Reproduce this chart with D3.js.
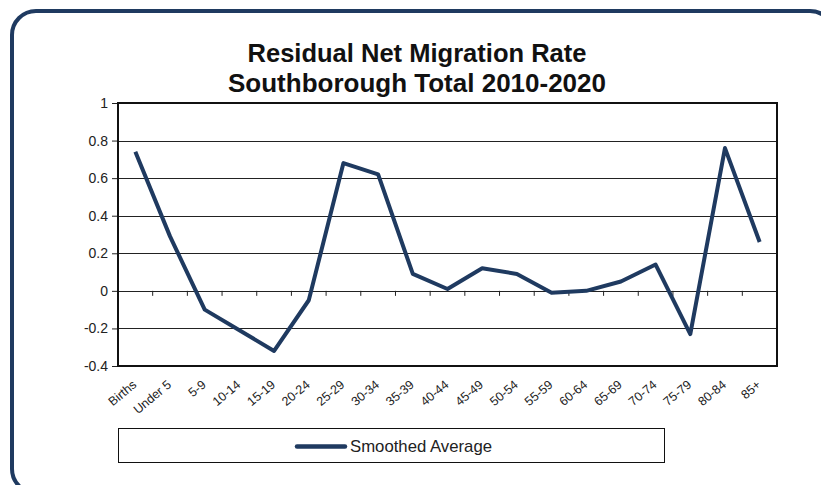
<!DOCTYPE html>
<html>
<head>
<meta charset="utf-8">
<script src="https://cdn.jsdelivr.net/npm/d3@7"></script>
<style>
  body { margin: 0; background: white; }
  svg { display: block; font-family: "Liberation Sans", Arial, sans-serif; }
</style>
</head>
<body>
<div class="chart"></div>
<script>
// age groups along the x axis
var ageGroups = ["Births", "Under 5", "5-9", "10-14", "15-19", "20-24", "25-29", "30-34", "35-39",
  "40-44", "45-49", "50-54", "55-59", "60-64", "65-69", "70-74", "75-79", "80-84", "85+"];

// smoothed average residual net migration rate
var smoothedAvg = [0.74, 0.29, -0.10, -0.21, -0.32, -0.05, 0.68, 0.62, 0.09,
  0.01, 0.12, 0.09, -0.01, 0.00, 0.05, 0.14, -0.23, 0.76, 0.26];

var yTicks = [1, 0.8, 0.6, 0.4, 0.2, 0, -0.2, -0.4];
var titleLines = ["Residual Net Migration Rate", "Southborough Total 2010-2020"];
var seriesName = "Smoothed Average";

var width = 821;
var height = 485;
var navy = "#1F3A60";

var margin = {top: 103, right: 44, bottom: 119, left: 118};

var svg = d3.select(".chart").append("svg")
  .attr("width", width)
  .attr("height", height);

// rounded outer frame
svg.append("rect")
  .attr("x", 12)
  .attr("y", 11)
  .attr("width", 822)
  .attr("height", 482)
  .attr("rx", 24)
  .attr("fill", "white")
  .attr("stroke", navy)
  .attr("stroke-width", 4);

// title, two lines, squeezed like the original
var titleLen = [339, 378];
svg.append("g")
  .selectAll("text")
  .data(titleLines)
  .enter()
  .append("text")
  .text(d => d)
  .attr("x", 417)
  .attr("y", (d, i) => 62 + i * 29.5)
  .attr("text-anchor", "middle")
  .attr("textLength", (d, i) => titleLen[i])
  .attr("lengthAdjust", "spacingAndGlyphs")
  .style("font-size", "26px")
  .style("font-weight", "bold")
  .attr("fill", "#111");

var x = d3.scaleBand()
  .domain(ageGroups)
  .range([margin.left, width - margin.right]);

var y = d3.scaleLinear()
  .domain([-0.4, 1])
  .range([height - margin.bottom, margin.top]);

// horizontal gridlines
svg.append("g")
  .selectAll("line")
  .data(yTicks.filter(d => d > -0.4 && d < 1))
  .enter()
  .append("line")
  .attr("x1", margin.left)
  .attr("x2", width - margin.right)
  .attr("y1", d => Math.round(y(d)) + 0.5)
  .attr("y2", d => Math.round(y(d)) + 0.5)
  .attr("stroke", "#222")
  .attr("stroke-width", 1);

// y axis with outward ticks (plain hyphen for negatives, like Excel)
var yAxis = svg.append("g")
  .attr("transform", "translate(" + margin.left + ",0)")
  .call(d3.axisLeft(y).tickValues(yTicks).tickSize(6).tickPadding(4).tickFormat(d => String(d)));

yAxis.attr("font-size", null).attr("font-family", null);
yAxis.select(".domain").remove();
yAxis.selectAll("line").attr("stroke", "#222");
yAxis.selectAll("text")
  .attr("fill", "#222")
  .style("font-size", "14px");

// category ticks on the zero line, at band boundaries
var bounds = ageGroups.slice(1).map(d => x(d));
svg.append("g")
  .selectAll("line")
  .data(bounds)
  .enter()
  .append("line")
  .attr("x1", d => d)
  .attr("x2", d => d)
  .attr("y1", y(0))
  .attr("y2", y(0) + 5)
  .attr("stroke", "#222");

// plot area frame
svg.append("rect")
  .attr("x", margin.left)
  .attr("y", margin.top)
  .attr("width", width - margin.left - margin.right)
  .attr("height", height - margin.top - margin.bottom)
  .attr("fill", "none")
  .attr("stroke", "#111")
  .attr("stroke-width", 2);

// rotated category labels
svg.append("g")
  .selectAll("text")
  .data(ageGroups)
  .enter()
  .append("text")
  .text(d => d)
  .attr("transform", d => "translate(" + (x(d) + x.bandwidth() / 2 + 2) + "," + 386 + ") rotate(-40)")
  .attr("text-anchor", "end")
  .style("font-size", "12.5px")
  .attr("fill", "#222");

// the series line
var line = d3.line()
  .x((d, i) => x(ageGroups[i]) + x.bandwidth() / 2)
  .y(d => y(d));

svg.append("path")
  .datum(smoothedAvg)
  .attr("d", line)
  .attr("fill", "none")
  .attr("stroke", navy)
  .attr("stroke-width", 4)
  .attr("stroke-linejoin", "round");

// legend box
var legend = svg.append("g");

legend.append("rect")
  .attr("x", 118.5)
  .attr("y", 428.5)
  .attr("width", 546)
  .attr("height", 34)
  .attr("fill", "white")
  .attr("stroke", "#111")
  .attr("stroke-width", 1);

legend.append("line")
  .attr("x1", 297)
  .attr("x2", 345)
  .attr("y1", 446.5)
  .attr("y2", 446.5)
  .attr("stroke", navy)
  .attr("stroke-width", 4.5)
  .attr("stroke-linecap", "round");

legend.append("text")
  .text(seriesName)
  .attr("x", 350)
  .attr("y", 451.5)
  .attr("textLength", 142)
  .attr("lengthAdjust", "spacingAndGlyphs")
  .style("font-size", "17px")
  .attr("fill", "#222");
</script>
</body>
</html>
